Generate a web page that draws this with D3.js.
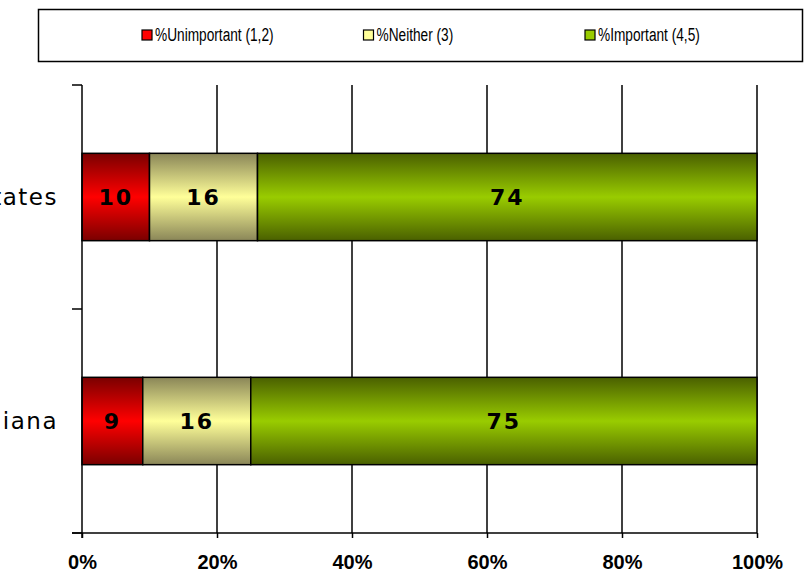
<!DOCTYPE html>
<html>
<head>
<meta charset="utf-8">
<script src="https://cdn.jsdelivr.net/npm/d3@7"></script>
<style>
  body { margin: 0; background: #fff; }
  svg { display: block; }
</style>
</head>
<body>
<div id="chart"></div>
<script>
let categories = ['United States', 'Indiana']
let seriesNames = ['%Unimportant (1,2)', '%Neither (3)', '%Important (4,5)']
let unimportant = [10, 9]
let neither = [16, 16]
let important = [74, 75]
let xTicks = [0, 20, 40, 60, 80, 100]

let width = 810
let height = 575
let margin = { top: 85, left: 82, right: 53, bottom: 42 }

let svg = d3.select('#chart')
  .append('svg')
  .attr('width', width)
  .attr('height', height)

// gradients like the old excel bars
let colorStops = [
  ['#7a0000', '#ff0000'],
  ['#8a8658', '#ffff99'],
  ['#4a6000', '#99cc00']
]
let legendColors = ['#ff0000', '#ffff99', '#99cc00']
let defs = svg.append('defs')
colorStops.forEach((c, i) => {
  let g = defs.append('linearGradient')
    .attr('id', 'grad' + i)
    .attr('x1', 0).attr('y1', 0).attr('x2', 0).attr('y2', 1)
  g.append('stop').attr('offset', '0%').attr('stop-color', c[0])
  g.append('stop').attr('offset', '50%').attr('stop-color', c[1])
  g.append('stop').attr('offset', '100%').attr('stop-color', c[0])
})

let xScale = d3.scaleLinear()
  .domain([0, 100])
  .range([margin.left, width - margin.right])

let yScale = d3.scaleBand()
  .domain(categories)
  .range([margin.top, height - margin.bottom])
  .paddingInner(0.61)
  .paddingOuter(0.305)

// grid
svg.selectAll('.grid')
  .data(xTicks.slice(1))
  .enter()
  .append('line')
  .attr('x1', d => xScale(d))
  .attr('x2', d => xScale(d))
  .attr('y1', margin.top)
  .attr('y2', height - margin.bottom)
  .attr('stroke', '#000')
  .attr('stroke-width', 1.5)

// stacked data
let rows = categories.map((c, i) => {
  let vals = [unimportant[i], neither[i], important[i]]
  let x0 = 0
  return vals.map((v, j) => {
    let seg = { cat: c, series: j, value: v, x0: x0, x1: x0 + v }
    x0 += v
    return seg
  })
})

let segs = svg.selectAll('.seg')
  .data(rows.flat())
  .enter()
  .append('g')

segs.append('rect')
  .attr('x', d => xScale(d.x0))
  .attr('width', d => xScale(d.x1) - xScale(d.x0))
  .attr('y', d => yScale(d.cat))
  .attr('height', yScale.bandwidth())
  .attr('fill', d => `url(#grad${d.series})`)
  .attr('stroke', '#000')
  .attr('stroke-width', 1.5)

segs.append('text')
  .text(d => d.value)
  .attr('x', d => (xScale(d.x0) + xScale(d.x1)) / 2)
  .attr('y', d => yScale(d.cat) + yScale.bandwidth() / 2)
  .attr('text-anchor', 'middle')
  .attr('dominant-baseline', 'central')
  .attr('font-family', 'DejaVu Sans')
  .attr('font-weight', 'bold')
  .attr('font-size', 22)
  .attr('letter-spacing', 2)
  .attr('fill', '#000')

// x axis
let xAxis = d3.axisBottom(xScale)
  .tickValues(xTicks)
  .tickFormat(d => d + '%')
  .tickSize(5)
  .tickPadding(17)
svg.append('g')
  .attr('transform', `translate(0,${height - margin.bottom})`)
  .call(xAxis)
  .call(g => g.select('.domain').attr('d', `M${margin.left - 10},0H${width - margin.right}`))
  .call(g => g.selectAll('line').attr('stroke-width', 1.5))
  .call(g => g.selectAll('path').attr('stroke-width', 1.5))
  .call(g => g.selectAll('text')
    .attr('font-family', 'Liberation Sans, Arial')
    .attr('font-weight', 'bold')
    .attr('font-size', 20)
    .attr('fill', '#000'))

// y axis with boundary ticks
let yAxisG = svg.append('g')
yAxisG.append('line')
  .attr('x1', margin.left).attr('x2', margin.left)
  .attr('y1', margin.top).attr('y2', height - margin.bottom + 5)
  .attr('stroke', '#000').attr('stroke-width', 1.5)
let bounds = [margin.top, (yScale(categories[0]) + yScale.bandwidth() + yScale(categories[1])) / 2, height - margin.bottom]
yAxisG.selectAll('.ytick')
  .data(bounds)
  .enter()
  .append('line')
  .attr('x1', margin.left - 10).attr('x2', margin.left)
  .attr('y1', d => d).attr('y2', d => d)
  .attr('stroke', '#000').attr('stroke-width', 1.5)

yAxisG.selectAll('.ylabel')
  .data(categories)
  .enter()
  .append('text')
  .text(d => d)
  .attr('x', margin.left - 24)
  .attr('y', d => yScale(d) + yScale.bandwidth() / 2)
  .attr('text-anchor', 'end')
  .attr('dominant-baseline', 'central')
  .attr('font-family', 'DejaVu Sans')
  .attr('font-size', 23)
  .attr('letter-spacing', 1.5)
  .attr('fill', '#000')

// legend
let legend = svg.append('g')
legend.append('rect')
  .attr('x', 38.5).attr('y', 9.5)
  .attr('width', 764).attr('height', 52)
  .attr('fill', '#fff')
  .attr('stroke', '#000')
  .attr('stroke-width', 1.5)

let legendX = d3.scalePoint()
  .domain(seriesNames)
  .range([142, 585])

let items = legend.selectAll('.item')
  .data(seriesNames)
  .enter()
  .append('g')
  .attr('transform', d => `translate(${legendX(d)},35)`)

items.append('rect')
  .attr('x', 0).attr('y', -5)
  .attr('width', 10).attr('height', 10)
  .attr('fill', (d, i) => legendColors[i])
  .attr('stroke', '#000')
  .attr('stroke-width', 1.2)

items.append('text')
  .text(d => d)
  .attr('transform', 'translate(13,0) scale(0.72,1)')
  .attr('dominant-baseline', 'central')
  .attr('font-family', 'Liberation Sans, Arial')
  .attr('font-size', 19)
  .attr('fill', '#000')
</script>
</body>
</html>
